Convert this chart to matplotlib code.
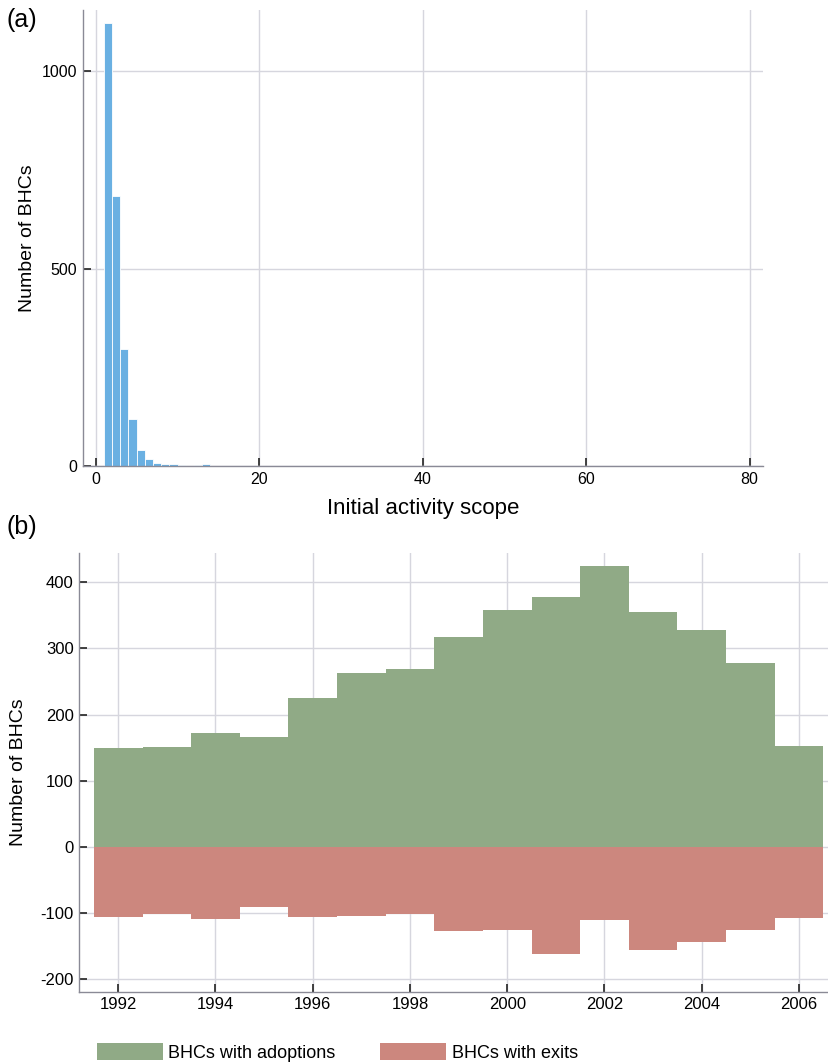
import numpy as np
import matplotlib
matplotlib.use('Agg')
import matplotlib.pyplot as plt

plt.rcParams['font.family'] = ['Liberation Sans', 'DejaVu Sans']
plt.rcParams['axes.unicode_minus'] = False

# panel (a): histogram of initial activity scope
scope_bins = [1, 2, 3, 4, 5, 6, 7, 8, 9, 10, 11, 12, 13, 14]
scope_counts = [1123, 684, 296, 118, 40, 18, 7, 4, 4, 2, 1, 2, 4, 1]

# panel (b): adoptions and exits per year
years = [1992, 1993, 1994, 1995, 1996, 1997, 1998, 1999,
         2000, 2001, 2002, 2003, 2004, 2005, 2006]
adoptions = [150, 151, 172, 166, 225, 263, 269, 317,
             358, 377, 425, 355, 327, 278, 152]
exits = [-106, -101, -109, -90, -106, -105, -101, -127,
         -126, -161, -111, -155, -144, -126, -108]

blue = '#6ab0e2'
green = '#90aa86'
red = '#cc877e'
grid_c = '#d6d6de'
spine_c = '#8a8a96'

fig = plt.figure(figsize=(8.29, 10.64), dpi=100)

def style(ax, labelsize):
    for s in ['top', 'right']:
        ax.spines[s].set_visible(False)
    for s in ['left', 'bottom']:
        ax.spines[s].set_color(spine_c)
        ax.spines[s].set_linewidth(1.0)
    ax.grid(True, color=grid_c, linewidth=1.0)
    ax.set_axisbelow(True)
    ax.tick_params(direction='in', length=5.5, width=1.2, color='#222222',
                   labelsize=labelsize, pad=4)

# (a)
ax1 = fig.add_axes([0.0998, 0.562, 0.8202, 0.4286])
ax1.bar(scope_bins, scope_counts, width=1.0, align='edge', color=blue,
        edgecolor='white', linewidth=0.6)
ax1.set_xlim(-1.6, 81.6)
ax1.set_ylim(0, 1155)
ax1.set_xticks([0, 20, 40, 60, 80])
ax1.set_yticks([0, 500, 1000])
style(ax1, 11.5)
ax1.set_xlabel('Initial activity scope', fontsize=16, labelpad=8)
ax1.set_ylabel('Number of BHCs', fontsize=14, labelpad=4)

# (b)
ax2 = fig.add_axes([0.0957, 0.068, 0.9033, 0.4123])
ax2.bar(years, adoptions, width=1.0, color=green, linewidth=0,
        label='BHCs with adoptions')
ax2.bar(years, exits, width=1.0, color=red, linewidth=0,
        label='BHCs with exits')
ax2.set_xlim(1991.2, 2006.6)
ax2.set_ylim(-218.6, 444)
ax2.set_xticks(list(range(1992, 2007, 2)))
ax2.set_yticks([-200, -100, 0, 100, 200, 300, 400])
style(ax2, 12)
ax2.set_ylabel('Number of BHCs', fontsize=14, labelpad=10)

fig.legend(loc='center left', bbox_to_anchor=(0.1166, 0.0108), ncol=2,
           frameon=False, fontsize=13, handlelength=3.65, handleheight=1.05,
           handletextpad=0.3, columnspacing=2.5, borderpad=0, borderaxespad=0)

fig.text(0.008, 0.981, '(a)', fontsize=18, va='center', ha='left')
fig.text(0.008, 0.505, '(b)', fontsize=18, va='center', ha='left')

fig.savefig('out.png', dpi=100)
